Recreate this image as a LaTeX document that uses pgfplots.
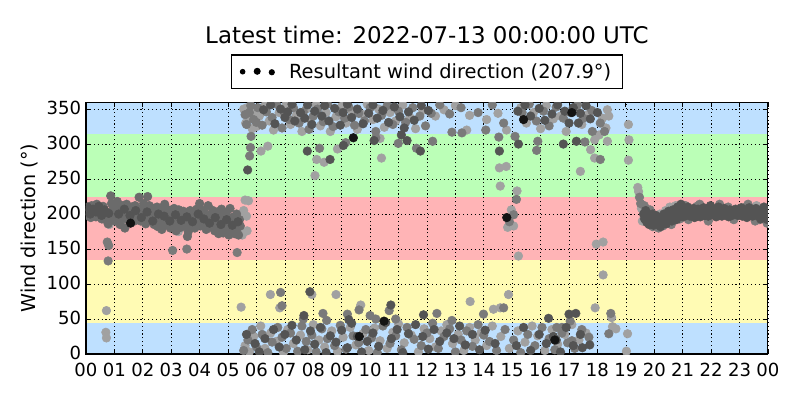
\documentclass[border=0pt]{standalone}
\usepackage{pgfplots}
\pgfplotsset{compat=1.18}
\usepackage{fontspec}
\setmainfont{DejaVu Sans}
\definecolor{bblue}{RGB}{190,224,255}
\definecolor{byellow}{RGB}{255,251,180}
\definecolor{bred}{RGB}{255,180,182}
\definecolor{bgreen}{RGB}{187,255,183}
\definecolor{cL}{gray}{0.63}
\definecolor{cM}{gray}{0.48}
\definecolor{cB}{gray}{0.42}
\definecolor{cD}{gray}{0.33}
\definecolor{cK}{gray}{0.08}
\pgfplotsset{
  layers/mylayers/.define layer set={axis background,axis grid,main,axis ticks,axis lines,axis tick labels,axis descriptions,axis foreground}{},
  pts/.style={only marks, mark=*, mark size=3.1pt, forget plot},
  band/.style={fill=#1, draw=none, mark=none, on layer=axis background, forget plot},
}
\begin{document}
\begin{tikzpicture}
\path (0,0) rectangle (576pt,288pt);
\begin{axis}[
  set layers=mylayers,
  at={(61.9pt,33.1pt)}, anchor=south west,
  scale only axis, width=491pt, height=181.4pt,
  xmin=0, xmax=24, ymin=0, ymax=360,
  xtick={0,1,...,24},
  xticklabels={00,01,02,03,04,05,06,07,08,09,10,11,12,13,14,15,16,17,18,19,20,21,22,23,00},
  ytick={0,50,...,350},
  tick align=inside, major tick length=3.6pt,
  tick style={black, line width=0.6pt},
  xtick pos=both, ytick pos=both,
  grid=major, grid style={black, line width=0.5pt, dash pattern=on 0.8pt off 2pt},
  axis line style={black, line width=0.8pt},
  /pgf/number format/assume math mode=true,
  tick label style={font=\fontsize{13}{15}\selectfont},
  xticklabel style={yshift=-3.2pt},
  yticklabel style={yshift=0.8pt},
  ylabel={Wind direction (°)},
  ylabel style={at={(axis description cs:-0.0835,0.5)}, anchor=center, font=\fontsize{13.8}{16}\selectfont},
  title={Latest time: 2022-07-13 00:00:00 UTC},
  title style={at={(axis description cs:0.5,1)}, anchor=base, yshift=36pt, font=\fontsize{16.5}{19}\selectfont},
  legend style={at={(0.5,1)}, anchor=south, yshift=9.4pt, draw=black, line width=0.8pt, font=\fontsize{14}{16}\selectfont, inner xsep=6pt, inner ysep=4pt},
  legend cell align=left,
  clip marker paths=true,
]
% background bands
\addplot[band=bblue] coordinates {(0,0) (24,0) (24,45) (0,45)};
\addplot[band=byellow] coordinates {(0,45) (24,45) (24,135) (0,135)};
\addplot[band=bred] coordinates {(0,135) (24,135) (24,225) (0,225)};
\addplot[band=bgreen] coordinates {(0,225) (24,225) (24,315) (0,315)};
\addplot[band=bblue] coordinates {(0,315) (24,315) (24,360) (0,360)};

\addlegendimage{legend image code/.code={
  \fill[black] (0pt,0pt) circle (1.6pt);
  \fill[black] (10.5pt,0.3pt) circle (2.1pt);
  \fill[black] (21pt,-0.4pt) circle (1.8pt);
  \path (31pt,0pt);}}
\addlegendentry{Resultant wind direction (207.9°)}

% light points
\addplot[pts, color=cL] coordinates {
(5.55,350)(5.62,330)(5.7,348)(5.85,322)(6.1,340)(6.3,355)(6.45,333)(6.6,320)(6.8,345)(7.05,357)(7.2,328)(7.4,341)(7.6,318)(7.75,350)(7.9,334)(8.1,356)(8.25,326)(8.45,345)(8.6,318)(8.8,339)(9.0,354)(9.15,330)(9.35,347)(9.55,321)(9.7,343)(9.9,357)(10.1,335)(10.3,350)(10.5,324)(10.7,345)(10.9,333)(11.15,356)(11.4,338)(11.6,322)(11.85,348)(12.3,340)(12.6,349)(13.0,355)(13.4,320)(13.5,341)(14.1,335)(14.5,344)(14.8,320)(15.3,352)(15.5,330)(15.75,345)(16.0,322)(16.2,355)(16.45,336)(16.7,340)(16.9,318)(17.2,350)(17.45,328)(17.65,342)(17.9,306)(18.06,313)(18.18,337)(18.3,323)(18.35,349)(18.4,340)(18.35,304)(19.09,328)(19.11,306)(19.09,277)(17.76,292)(17.9,280)(17.4,261)
(5.68,352)(5.78,338)(5.88,346)(6.0,325)
(6.16,290)(6.40,297)(8.12,278)(8.38,274)(8.06,255)(8.85,293)(10.35,308)(10.40,280)(14.55,266)(14.79,268)(14.58,240)(15.17,233)(14.97,206)(15.05,183)(14.84,181)(15.22,140)(5.72,219)(5.67,176)(5.65,197)(5.5,170)(17.96,157)(18.2,160)(18.2,113)
(5.46,67)(6.49,85)(6.82,66)(7.95,85)(8.8,85)(9.67,70)(13.52,75)(14.87,85)(14.34,64)(14.58,66)(17.92,66)(18.5,52)(0.72,62)
(0.7,31)(0.72,23)(18.53,39)(18.65,36)(19.06,29)(19.02,4)
(5.6,12)(5.75,3)(5.9,25)(6.15,40)(6.3,8)(6.5,30)(6.7,18)(6.95,2)(7.1,35)(7.3,15)(7.55,27)(7.8,6)(8.0,42)(8.2,20)(8.4,10)(8.65,33)(8.85,4)(9.05,24)(9.3,38)(9.5,13)(9.75,29)(9.95,5)(10.15,37)(10.35,19)(10.6,8)(10.8,31)(11.0,43)(11.2,16)(11.45,27)(11.7,3)(11.9,36)(12.1,22)(12.3,10)(12.5,33)(12.7,42)(12.9,15)(13.1,28)(13.3,5)(13.5,38)(13.7,20)(13.9,30)(14.1,12)(14.3,40)(14.6,25)(14.9,8)(15.2,33)(15.45,17)(15.7,40)(15.9,26)(16.15,5)(16.4,35)(16.6,14)(16.85,28)(17.1,42)(17.35,20)(17.6,30)
(0.85,200)(1.25,190)(1.65,195)(2.45,206)(2.85,192)(3.25,175)(3.65,183)(4.25,197)(4.65,188)(4.85,178)(5.05,180)(5.25,188)(5.45,175)(5.5,198)(5.55,205)(5.6,220)(0.75,190)(0.82,185)
(19.42,238)(19.45,232)(19.55,208)(19.58,190)(19.75,202)(20.0,196)(20.2,200)(20.4,205)(20.55,210)(20.7,207)(20.75,212)(23.6,212)(23.9,200)
};

% band 0-5.5 h
\addplot[pts, color=cB] coordinates {
(0.02,205)(0.05,198)(0.08,210)(0.11,202)(0.14,207)(0.17,195)(0.2,212)(0.23,203)(0.26,199)(0.29,208)(0.32,204)(0.35,196)(0.38,214)(0.41,201)(0.44,206)(0.47,197)(0.5,209)(0.53,203)(0.56,193)(0.6,211)(0.63,200)(0.66,205)(0.7,192)(0.74,199)(0.78,186)(0.83,195)(0.87,226)(0.9,215)(0.93,205)(0.96,198)(1.0,210)(1.03,190)(1.06,203)(1.1,218)(1.13,196)(1.16,207)(1.2,185)(1.23,200)(1.27,212)(1.3,195)(1.33,205)(1.37,180)(1.4,199)(1.43,214)(1.47,192)(1.5,207)(1.53,201)(1.6,210)(1.63,197)(1.67,204)(1.7,190)(1.73,212)(1.77,200)(1.8,194)(1.83,206)(1.87,224)(1.9,199)(1.93,190)(1.97,208)(2.0,202)(2.03,215)(2.07,196)(2.1,186)(2.13,205)(2.17,225)(2.2,199)(2.23,212)(2.27,192)(2.3,203)(2.33,197)(2.37,208)(2.4,185)(2.43,200)(2.47,194)(2.5,210)(2.53,182)(2.57,198)(2.6,205)(2.63,190)(2.67,178)(2.7,202)(2.73,195)(2.77,214)(2.8,188)(2.83,199)(2.87,185)(2.9,206)(2.93,193)(2.97,180)(3.0,203)(3.03,197)(3.07,187)(3.1,208)(3.13,192)(3.17,176)(3.2,200)(3.23,185)(3.27,206)(3.3,195)(3.33,181)(3.37,198)(3.4,189)(3.43,204)(3.47,193)(3.5,183)(3.53,199)(3.57,168)(3.6,175)(3.63,190)(3.67,205)(3.7,196)(3.73,185)(3.77,201)(3.8,192)(3.83,180)(3.87,198)(3.9,207)(3.93,188)(3.97,195)(4.0,215)(4.03,183)(4.07,200)(4.1,191)(4.13,205)(4.17,185)(4.2,197)(4.23,178)(4.27,193)(4.3,212)(4.33,188)(4.37,199)(4.4,182)(4.43,195)(4.47,205)(4.5,190)(4.53,176)(4.57,198)(4.6,186)(4.63,203)(4.67,172)(4.7,193)(4.73,180)(4.77,207)(4.8,189)(4.83,173)(4.87,196)(4.9,184)(4.93,202)(4.97,178)(5.0,191)(5.03,170)(5.07,208)(5.1,185)(5.13,195)(5.17,178)(5.2,190)(5.23,172)(5.27,185)(5.3,200)(5.33,180)(5.37,170)(5.4,192)(5.43,183)
};

% mid points
\addplot[pts, color=cM] coordinates {
(5.6,342)(5.75,345)(5.9,335)(6.05,352)(6.2,327)(6.35,346)(6.55,338)(6.7,357)(6.9,323)(7.0,343)(7.15,335)(7.3,352)(7.5,330)(7.65,346)(7.85,321)(8.0,340)(8.15,350)(8.35,332)(8.5,357)(8.7,325)(8.9,346)(9.1,337)(9.25,353)(9.45,327)(9.6,344)(9.8,333)(10.0,352)(10.2,318)(10.4,341)(10.6,355)(10.8,328)(11.0,347)(11.25,331)(11.5,352)(11.75,340)(11.95,326)(12.15,344)(12.45,356)(12.8,343)(13.2,352)(13.8,345)(14.3,356)(14.7,330)(15.1,311)(15.35,345)(15.6,357)(15.85,333)(16.1,347)(16.3,326)(16.55,353)(16.8,337)(17.05,345)(17.3,356)(17.5,337)(17.8,348)(18.1,330)(18.25,318)(17.56,303)(17.82,318)(18.1,278)
(5.65,328)(5.8,355)(6.0,331)
(5.76,283)(5.79,295)(5.81,311)(8.22,294)(9.14,302)(10.2,309)(10.99,301)(11.63,294)(12.2,304)(12.88,317)(13.23,316)(14.53,310)(14.07,320)(15.15,221)(14.9,189)(15.05,199)(15.86,291)(15.9,304)(5.32,145)(3.05,148)(3.55,150)(0.75,160)(0.8,155)(0.78,133)
(6.85,88)(9.61,63)(9.2,57)(8.34,58)(8.47,48)(7.65,50)(10.0,55)(10.2,50)(10.67,62)(10.9,50)(12.35,58)(12.88,48)(13.99,57)(14.7,66)(17.04,47)(16.75,38)(16.57,38)(18.47,58)(6.9,69)
(5.55,5)(5.7,20)(5.85,35)(6.0,10)(6.2,28)(6.4,2)(6.55,17)(6.75,38)(6.9,24)(7.05,8)(7.2,30)(7.45,4)(7.6,40)(7.75,18)(7.95,27)(8.1,3)(8.3,36)(8.5,22)(8.75,12)(8.95,41)(9.15,7)(9.4,26)(9.6,16)(9.85,35)(10.05,23)(10.25,2)(10.45,40)(10.7,15)(10.9,26)(11.1,6)(11.3,38)(11.55,21)(11.8,12)(12.0,30)(12.2,44)(12.4,8)(12.6,25)(12.8,36)(13.0,3)(13.2,20)(13.4,33)(13.6,11)(13.8,42)(14.0,27)(14.2,18)(14.45,5)(14.75,35)(15.05,20)(15.3,2)(15.55,28)(15.8,12)(16.05,38)(16.3,22)(16.5,6)(16.75,30)(16.95,16)(17.2,8)(17.45,35)(17.7,24)(18.4,29)(17.1,19)
(19.48,224)(19.52,215)(19.65,212)(19.85,206)(20.85,200)(21.1,212)(21.5,211)(22.0,207)(22.6,210)(23.2,210)(23.97,187)(23.7,192)
(19.95,182)(20.05,186)(20.15,180)(20.3,183)(20.45,188)(20.6,185)(20.9,193)(21.2,192)(21.6,214)(21.9,190)(22.3,214)(22.8,192)(23.3,214)(23.55,190)(24.0,193)
};

% dark points
\addplot[pts, color=cD] coordinates {
(6.25,349)(6.5,356)(6.65,329)(6.85,350)(7.0,338)(7.1,346)(7.25,357)(7.35,333)(7.55,345)(7.7,337)(7.8,356)(7.95,328)(8.05,347)(8.3,340)(8.4,355)(8.55,333)(8.75,351)(8.95,327)(9.05,345)(9.2,357)(9.35,338)(9.55,350)(9.75,329)(9.95,344)(10.1,356)(10.25,337)(10.45,348)(10.65,331)(10.85,353)(11.05,339)(11.2,323)(11.35,346)(11.55,334)(11.8,355)(12.05,348)(15.2,347)(15.45,356)(15.65,340)(15.95,351)(16.15,334)(16.4,343)(16.6,356)(16.85,347)(17.0,330)(17.15,352)(17.4,344)(17.6,355)(17.75,336)(17.26,304)(17.33,330)(18.0,345)
(5.69,263)(7.79,290)(8.59,278)(9.06,298)(10.14,305)(11.77,290)(14.55,290)(15.22,300)(11.1,313)(11.3,305)(16.8,300)
(7.88,89)(7.67,55)(9.25,49)(10.73,70)(11.88,56)(16.28,51)(17.24,58)(17.0,57)
(5.65,28)(5.95,15)(6.1,3)(6.3,22)(6.6,35)(6.8,10)(7.0,28)(7.25,41)(7.4,20)(7.7,6)(7.9,33)(8.05,14)(8.25,38)(8.45,2)(8.6,26)(8.8,17)(9.0,34)(9.2,9)(9.35,44)(9.55,25)(9.7,3)(9.9,18)(10.1,30)(10.3,11)(10.55,45)(10.75,22)(10.95,35)(11.15,2)(11.35,29)(11.6,42)(11.85,25)(12.05,7)(12.25,35)(12.45,18)(12.7,30)(12.95,22)(13.15,40)(13.35,13)(13.6,28)(13.85,6)(14.05,34)(14.4,15)(15.15,12)(15.4,38)(15.65,5)(15.95,28)(16.2,15)(16.45,25)(16.7,3)(16.9,38)(17.15,12)(17.4,28)(17.73,13)(17.47,9)(16.55,20)
(0.05,210)(0.15,200)(0.25,207)(0.35,203)(0.45,211)(0.55,198)(0.65,206)(0.8,201)(1.15,200)(1.35,207)(1.55,198)(1.75,205)(1.95,195)(2.15,203)(2.35,190)(2.55,200)(2.75,197)(2.95,190)(3.15,199)(3.35,191)(3.55,196)(3.75,189)(3.95,200)(4.15,193)(4.35,187)(4.55,195)(4.75,185)(4.95,192)(5.15,184)(5.35,189)
(19.62,200)(19.66,193)(19.7,205)(19.74,188)(19.78,198)(19.82,185)(19.86,195)(19.9,190)(19.94,200)(19.98,184)(20.02,192)(20.06,198)(20.1,187)(20.14,195)(20.18,190)(20.22,182)(20.26,196)(20.3,189)(20.34,200)(20.38,193)(20.42,186)(20.46,197)(20.5,204)(20.54,194)(20.58,199)(20.62,190)(20.66,206)(20.7,197)(20.74,202)(20.78,192)(20.82,210)(20.86,199)(20.9,205)(20.94,214)(20.98,201)(21.02,196)(21.06,207)(21.1,203)(21.14,199)(21.18,210)(21.22,204)(21.26,197)(21.3,206)(21.34,201)(21.38,208)(21.42,195)(21.46,203)(21.5,199)(21.54,207)(21.58,202)(21.62,196)(21.66,205)(21.7,200)(21.74,209)(21.78,198)(21.82,203)(21.86,206)(21.9,197)(21.94,201)(21.98,212)(22.02,204)(22.06,199)(22.1,206)(22.14,201)(22.18,196)(22.22,204)(22.26,210)(22.3,200)(22.34,205)(22.38,197)(22.42,203)(22.46,208)(22.5,199)(22.54,204)(22.58,201)(22.62,196)(22.66,206)(22.7,202)(22.74,198)(22.78,205)(22.82,200)(22.86,207)(22.9,203)(22.94,198)(22.98,204)(23.02,201)(23.06,209)(23.1,197)(23.14,203)(23.18,206)(23.22,200)(23.26,195)(23.3,204)(23.34,209)(23.38,199)(23.42,203)(23.46,197)(23.5,206)(23.54,201)(23.58,208)(23.62,198)(23.66,204)(23.7,200)(23.74,193)(23.78,206)(23.82,202)(23.86,210)(23.9,197)(23.94,203)(23.98,192)
};

% nearly black points
\addplot[pts, color=cK] coordinates {
(9.41,309)(10.49,47)(9.62,25)(14.81,195)(15.4,335)(17.1,345)(16.5,20)(1.57,187)
};
\end{axis}
\end{tikzpicture}
\end{document}
